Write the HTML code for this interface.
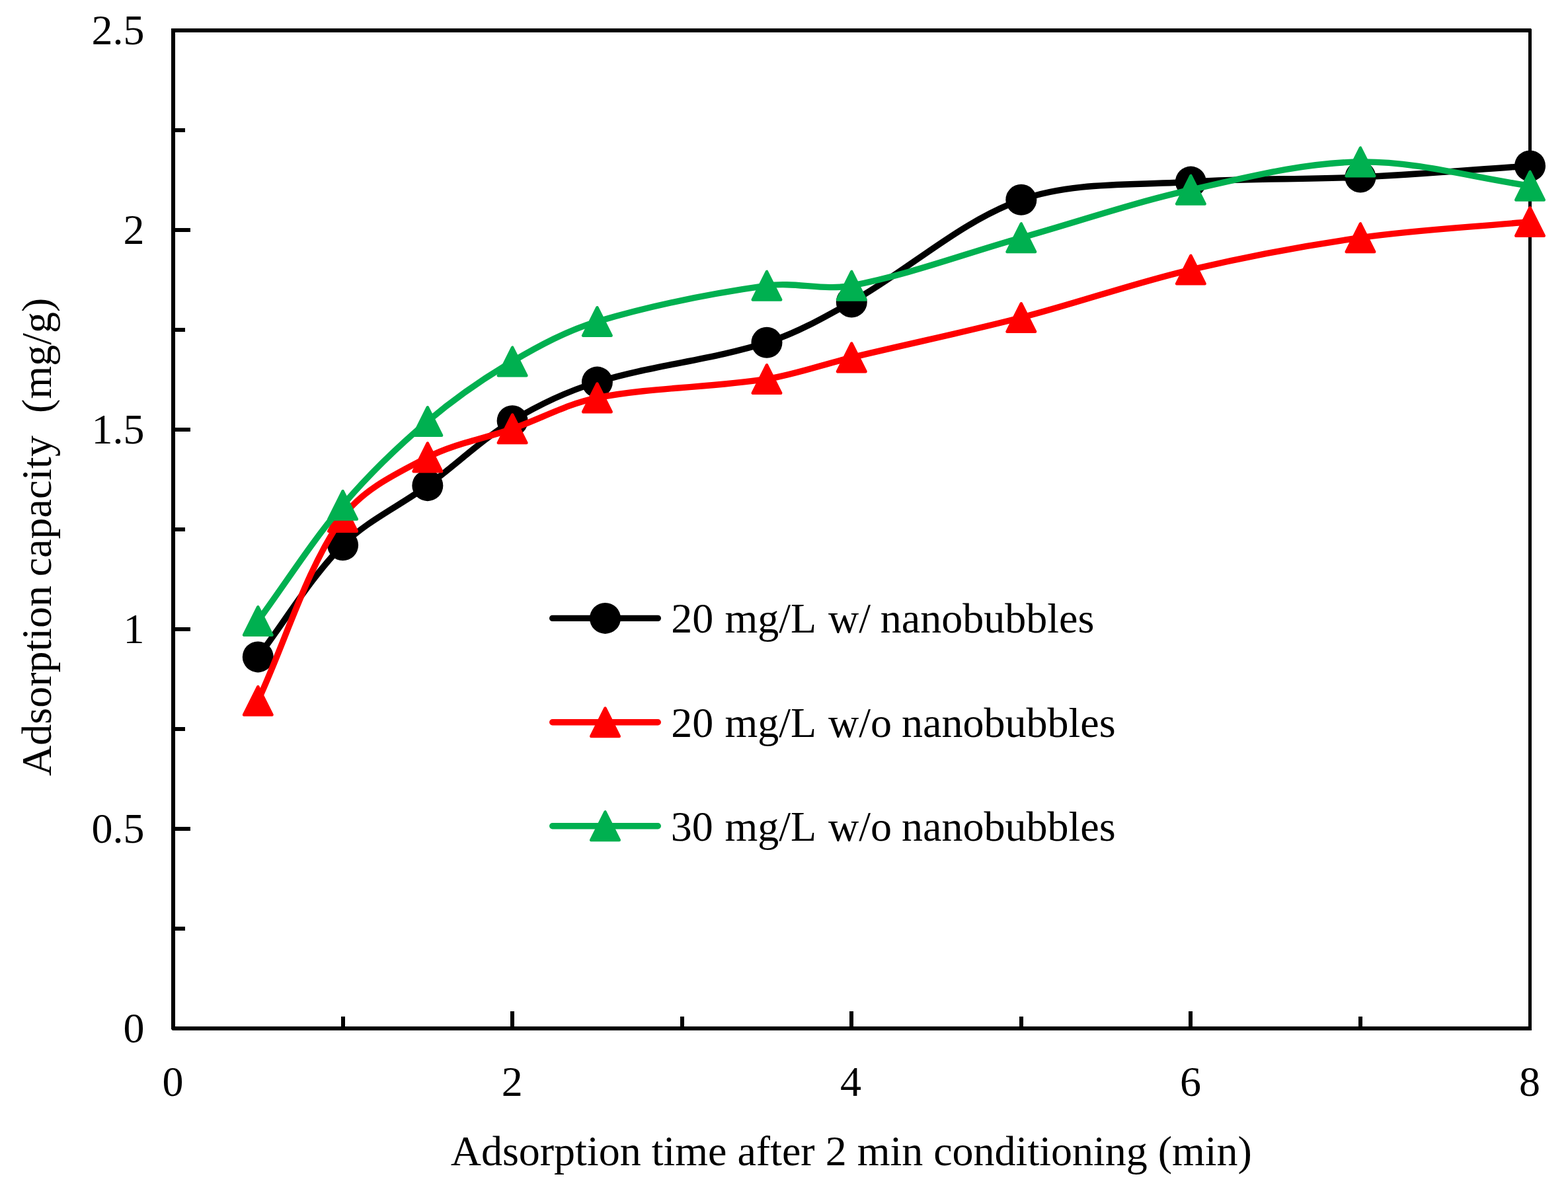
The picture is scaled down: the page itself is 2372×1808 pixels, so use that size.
<!DOCTYPE html>
<html lang="en">
<head>
<meta charset="utf-8">
<title>Adsorption capacity vs adsorption time</title>
<style>
html,body{margin:0;padding:0;background:#fff;}
body{width:2372px;height:1808px;overflow:hidden;}
svg{display:block;}
text{font-family:"Liberation Serif",serif;font-size:64px;fill:#000;white-space:pre;font-kerning:none;}
</style>
</head>
<body>
<svg width="2372" height="1808" viewBox="0 0 2372 1808">
<rect x="0" y="0" width="2372" height="1808" fill="#ffffff"/>
<g fill="none" stroke="#000" stroke-width="6">
<path d="M262 43V1559"/>
<path d="M259 46H2317"/>
<path d="M259 1556H2317"/>
<path d="M2314.5 43V1559" stroke-width="5"/>
<path d="M258.8 1559.2h2.4l-2.4 -2.4z" fill="#fff" stroke="none"/>
<path d="M2317.2 42.8h-1.6l1.6 1.6z" fill="#fff" stroke="none"/>
</g>
<g fill="none" stroke="#000" stroke-width="6">
<line x1="262" y1="1556" x2="288" y2="1556"/>
<line x1="262" y1="1405" x2="280" y2="1405"/>
<line x1="262" y1="1254" x2="288" y2="1254"/>
<line x1="262" y1="1103" x2="280" y2="1103"/>
<line x1="262" y1="952" x2="288" y2="952"/>
<line x1="262" y1="801" x2="280" y2="801"/>
<line x1="262" y1="650" x2="288" y2="650"/>
<line x1="262" y1="499" x2="280" y2="499"/>
<line x1="262" y1="348" x2="288" y2="348"/>
<line x1="262" y1="197" x2="280" y2="197"/>
<line x1="262" y1="1556" x2="262" y2="1530"/>
<line x1="519" y1="1556" x2="519" y2="1538"/>
<line x1="775" y1="1556" x2="775" y2="1530"/>
<line x1="1032" y1="1556" x2="1032" y2="1538"/>
<line x1="1288" y1="1556" x2="1288" y2="1530"/>
<line x1="1545" y1="1556" x2="1545" y2="1538"/>
<line x1="1801" y1="1556" x2="1801" y2="1530"/>
<line x1="2058" y1="1556" x2="2058" y2="1538"/>
</g>
<g>
<path d="M390.28 993.88C433.04 937.51 469.37 874.46 518.56 824.76C554.89 788.05 604.71 765.54 646.84 734.66C690.23 702.86 729.49 664.57 775.12 636.72C815.01 612.39 858.68 591.88 903.41 578.12C986.96 552.41 1076.66 544.56 1159.97 518.32C1204.94 504.16 1246.95 480.1 1288.25 456.92C1375.23 408.09 1452.92 334.86 1544.81 302.3C1623.96 274.26 1715.63 280.85 1801.38 275.12C1886.67 269.41 1972.49 272 2057.94 267.98C2143.54 263.95 2228.98 256.63 2314.5 250.96" fill="none" stroke="#000000" stroke-width="9.4" stroke-linecap="round" stroke-linejoin="round"/>
<circle cx="390.28" cy="993.88" r="23.5" fill="#000000"/>
<circle cx="518.56" cy="824.76" r="23.5" fill="#000000"/>
<circle cx="646.84" cy="734.66" r="23.5" fill="#000000"/>
<circle cx="775.12" cy="636.72" r="23.5" fill="#000000"/>
<circle cx="903.41" cy="578.12" r="23.5" fill="#000000"/>
<circle cx="1159.97" cy="518.32" r="23.5" fill="#000000"/>
<circle cx="1288.25" cy="456.92" r="23.5" fill="#000000"/>
<circle cx="1544.81" cy="302.3" r="23.5" fill="#000000"/>
<circle cx="1801.38" cy="275.12" r="23.5" fill="#000000"/>
<circle cx="2057.94" cy="267.98" r="23.5" fill="#000000"/>
<circle cx="2314.5" cy="250.96" r="23.5" fill="#000000"/>
</g>
<g>
<path d="M390.28 1060.32C433.04 967.71 462.05 863.64 518.56 782.48C547.57 740.83 600.91 715.82 646.84 691.88C686.43 671.26 732.56 663.73 775.12 648.8C818.09 633.73 859.01 610.57 903.41 601.88C987.3 585.46 1075.17 586.92 1159.97 573.48C1203.45 566.59 1245.37 551.24 1288.25 540.88C1373.65 520.24 1459.78 502.5 1544.81 480.48C1630.82 458.21 1714.96 428.34 1801.38 408C1886 388.08 1971.86 371.84 2057.94 359.68C2142.9 347.68 2228.98 343.57 2314.5 335.52" fill="none" stroke="#ff0000" stroke-width="9.4" stroke-linecap="round" stroke-linejoin="round"/>
<path d="M390.28 1039.07L369.03 1081.57L411.53 1081.57Z" fill="#ff0000" stroke="#ff0000" stroke-width="4.5" stroke-linejoin="round"/>
<path d="M518.56 761.23L497.31 803.73L539.81 803.73Z" fill="#ff0000" stroke="#ff0000" stroke-width="4.5" stroke-linejoin="round"/>
<path d="M646.84 670.63L625.59 713.13L668.09 713.13Z" fill="#ff0000" stroke="#ff0000" stroke-width="4.5" stroke-linejoin="round"/>
<path d="M775.12 627.55L753.88 670.05L796.38 670.05Z" fill="#ff0000" stroke="#ff0000" stroke-width="4.5" stroke-linejoin="round"/>
<path d="M903.41 580.63L882.16 623.13L924.66 623.13Z" fill="#ff0000" stroke="#ff0000" stroke-width="4.5" stroke-linejoin="round"/>
<path d="M1159.97 552.23L1138.72 594.73L1181.22 594.73Z" fill="#ff0000" stroke="#ff0000" stroke-width="4.5" stroke-linejoin="round"/>
<path d="M1288.25 519.63L1267 562.13L1309.5 562.13Z" fill="#ff0000" stroke="#ff0000" stroke-width="4.5" stroke-linejoin="round"/>
<path d="M1544.81 459.23L1523.56 501.73L1566.06 501.73Z" fill="#ff0000" stroke="#ff0000" stroke-width="4.5" stroke-linejoin="round"/>
<path d="M1801.38 386.75L1780.12 429.25L1822.62 429.25Z" fill="#ff0000" stroke="#ff0000" stroke-width="4.5" stroke-linejoin="round"/>
<path d="M2057.94 338.43L2036.69 380.93L2079.19 380.93Z" fill="#ff0000" stroke="#ff0000" stroke-width="4.5" stroke-linejoin="round"/>
<path d="M2314.5 314.27L2293.25 356.77L2335.75 356.77Z" fill="#ff0000" stroke="#ff0000" stroke-width="4.5" stroke-linejoin="round"/>
</g>
<g>
<path d="M390.28 939.52C433.04 881.13 471.85 819.34 518.56 764.36C557.37 718.67 601.12 676.27 646.84 637.52C686.65 603.79 730.18 573.37 775.12 546.92C815.7 523.04 858.39 499.94 903.41 486.52C986.67 461.69 1073.82 444.33 1159.97 432.16C1202.11 426.21 1246.58 440.01 1288.25 432.16C1374.86 415.85 1459.29 383.84 1544.81 359.68C1630.33 335.52 1714.79 306.57 1801.38 287.2C1885.83 268.31 1972.27 245.93 2057.94 244.92C2143.31 243.92 2228.98 269.08 2314.5 281.16" fill="none" stroke="#00b050" stroke-width="9.4" stroke-linecap="round" stroke-linejoin="round"/>
<path d="M390.28 918.27L369.03 960.77L411.53 960.77Z" fill="#00b050" stroke="#00b050" stroke-width="4.5" stroke-linejoin="round"/>
<path d="M518.56 743.11L497.31 785.61L539.81 785.61Z" fill="#00b050" stroke="#00b050" stroke-width="4.5" stroke-linejoin="round"/>
<path d="M646.84 616.27L625.59 658.77L668.09 658.77Z" fill="#00b050" stroke="#00b050" stroke-width="4.5" stroke-linejoin="round"/>
<path d="M775.12 525.67L753.88 568.17L796.38 568.17Z" fill="#00b050" stroke="#00b050" stroke-width="4.5" stroke-linejoin="round"/>
<path d="M903.41 465.27L882.16 507.77L924.66 507.77Z" fill="#00b050" stroke="#00b050" stroke-width="4.5" stroke-linejoin="round"/>
<path d="M1159.97 410.91L1138.72 453.41L1181.22 453.41Z" fill="#00b050" stroke="#00b050" stroke-width="4.5" stroke-linejoin="round"/>
<path d="M1288.25 410.91L1267 453.41L1309.5 453.41Z" fill="#00b050" stroke="#00b050" stroke-width="4.5" stroke-linejoin="round"/>
<path d="M1544.81 338.43L1523.56 380.93L1566.06 380.93Z" fill="#00b050" stroke="#00b050" stroke-width="4.5" stroke-linejoin="round"/>
<path d="M1801.38 265.95L1780.12 308.45L1822.62 308.45Z" fill="#00b050" stroke="#00b050" stroke-width="4.5" stroke-linejoin="round"/>
<path d="M2057.94 223.67L2036.69 266.17L2079.19 266.17Z" fill="#00b050" stroke="#00b050" stroke-width="4.5" stroke-linejoin="round"/>
<path d="M2314.5 259.91L2293.25 302.41L2335.75 302.41Z" fill="#00b050" stroke="#00b050" stroke-width="4.5" stroke-linejoin="round"/>
</g>
<g>
<line x1="835.7" y1="935.4" x2="995.3" y2="935.4" stroke="#000000" stroke-width="9.4" stroke-linecap="round"/>
<circle cx="915.5" cy="935.4" r="23.5" fill="#000000"/>
<text y="957.3"><tspan x="1015.15">20</tspan> <tspan x="1096.55">mg/L</tspan> <tspan x="1253">w/</tspan> <tspan x="1331.85">nanobubbles</tspan></text>
</g>
<g>
<line x1="835.7" y1="1092.8" x2="995.3" y2="1092.8" stroke="#ff0000" stroke-width="9.4" stroke-linecap="round"/>
<path d="M915.5 1071.55L894.25 1114.05L936.75 1114.05Z" fill="#ff0000" stroke="#ff0000" stroke-width="4.5" stroke-linejoin="round"/>
<text y="1114.7"><tspan x="1015.15">20</tspan> <tspan x="1096.55">mg/L</tspan> <tspan x="1253">w/o</tspan> <tspan x="1364.1">nanobubbles</tspan></text>
</g>
<g>
<line x1="835.7" y1="1249.7" x2="995.3" y2="1249.7" stroke="#00b050" stroke-width="9.4" stroke-linecap="round"/>
<path d="M915.5 1228.45L894.25 1270.95L936.75 1270.95Z" fill="#00b050" stroke="#00b050" stroke-width="4.5" stroke-linejoin="round"/>
<text y="1271.6"><tspan x="1014.65">30</tspan> <tspan x="1096.55">mg/L</tspan> <tspan x="1253">w/o</tspan> <tspan x="1364.1">nanobubbles</tspan></text>
</g>
<g text-anchor="end">
<text x="218.6" y="1577.3">0</text>
<text x="218.6" y="1275.3">0.5</text>
<text x="218.6" y="973.3">1</text>
<text x="218.6" y="671.3">1.5</text>
<text x="218.6" y="369.3">2</text>
<text x="218.6" y="67.3">2.5</text>
</g>
<g text-anchor="middle">
<text x="261.6" y="1658">0</text>
<text x="774.73" y="1658">2</text>
<text x="1286.95" y="1658">4</text>
<text x="1800.97" y="1658">6</text>
<text x="2314.1" y="1658">8</text>
</g>
<text x="1287.8" y="1762.7" text-anchor="middle">Adsorption time after 2 min conditioning (min)</text>
<text transform="translate(77 1173.9) rotate(-90)" y="0"><tspan x="0">Adsorption</tspan> <tspan x="301.6">capacity</tspan>  <tspan x="549">(mg/g)</tspan></text>
</svg>
</body>
</html>
